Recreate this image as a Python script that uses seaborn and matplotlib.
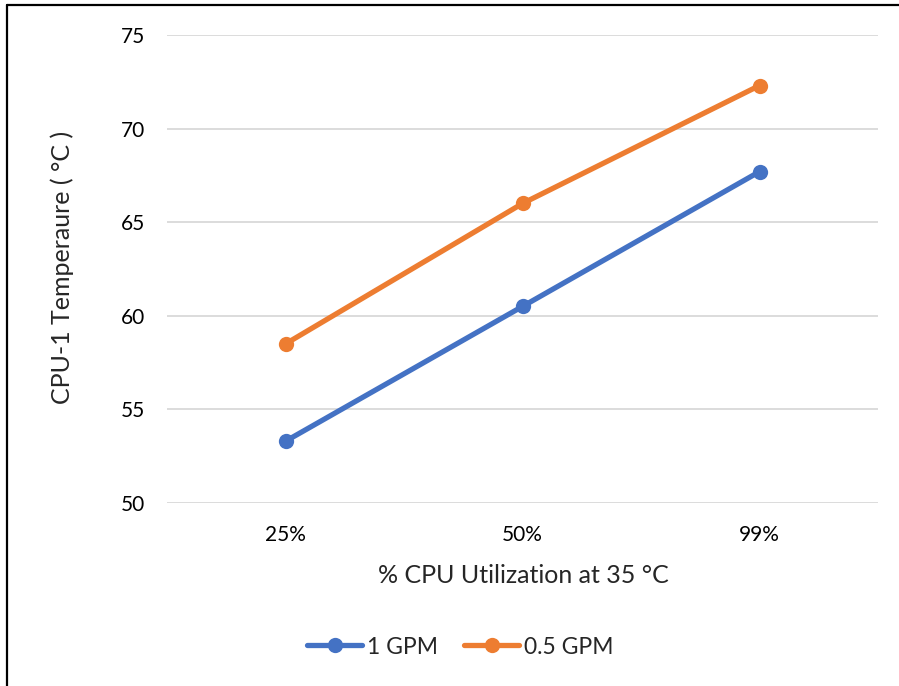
import matplotlib
matplotlib.use("Agg")
import matplotlib.pyplot as plt
from matplotlib.lines import Line2D
import seaborn as sns
import pandas as pd

utilization = ["25%", "50%", "99%"]
series_names = ["1 GPM", "0.5 GPM"]
temp_1gpm = [53.3, 60.5, 67.7]
temp_05gpm = [58.5, 66.0, 72.3]
y_ticks = [50, 55, 60, 65, 70, 75]

df = pd.DataFrame({
    "pos": list(range(len(utilization))) * 2,
    "temp": temp_1gpm + temp_05gpm,
    "flow": [series_names[0]] * 3 + [series_names[1]] * 3,
})

sns.set_theme(style="white")
plt.rcParams["font.family"] = ["Lato", "DejaVu Sans"]

fig = plt.figure(figsize=(8.99, 6.86), dpi=100)
ax = fig.add_axes([167 / 899, 1 - 503 / 686, 711 / 899, 468 / 686])

palette = {"1 GPM": "#4472C4", "0.5 GPM": "#ED7D31"}
sns.lineplot(data=df, x="pos", y="temp", hue="flow", hue_order=series_names,
             palette=palette, marker="o", markersize=11, markeredgewidth=0,
             linewidth=3.8, ax=ax, legend=False)

ax.set_xlim(-0.5, 2.5)
ax.set_ylim(50, 75)
ax.set_yticks(y_ticks)
ax.set_xticks(range(len(utilization)))
ax.set_xticklabels(utilization)
ax.yaxis.grid(True, color="#D9D9D9", linewidth=1.3)
ax.xaxis.grid(False)
for s in ax.spines.values():
    s.set_visible(False)
ax.tick_params(axis="both", length=0, labelsize=15, colors="#000000")
ax.tick_params(axis="x", pad=16)
ax.tick_params(axis="y", pad=16)
ax.set_xlabel("% CPU Utilization at 35 °C", fontsize=18)
ax.set_ylabel("CPU-1 Temperaure ( °C )", fontsize=18)
ax.xaxis.set_label_coords(0.5007, -0.130)
ax.yaxis.set_label_coords(-0.131, 0.503)

handles = [Line2D([], [], color=palette[n], marker="o", markersize=11,
                  markeredgewidth=0, linewidth=3.8) for n in series_names]
fig.legend(handles, series_names, loc="center", bbox_to_anchor=(460.5 / 899, 1 - 647 / 686),
           ncol=2, frameon=False, fontsize=16.5, handlelength=2.4, handletextpad=0.22,
           columnspacing=1.13)

# outer frame
fig.add_artist(Line2D([7 / 899, 7 / 899], [0, 1 - 5 / 686], transform=fig.transFigure,
                      color="black", linewidth=1.6))
fig.add_artist(Line2D([7 / 899, 1], [1 - 5 / 686, 1 - 5 / 686], transform=fig.transFigure,
                      color="black", linewidth=1.6))

fig.savefig("out.png", dpi=100)
